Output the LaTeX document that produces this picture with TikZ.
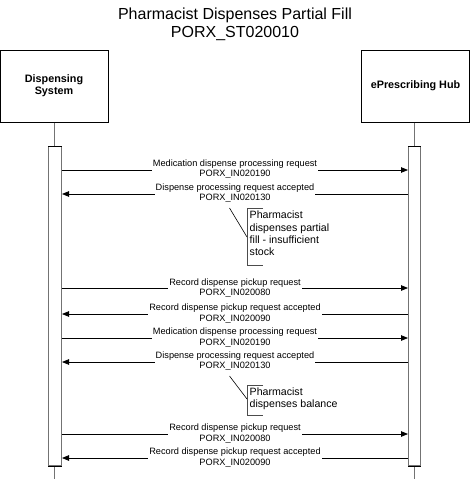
\documentclass[tikz,border=0pt]{standalone}
\usepackage{fontspec}
\setmainfont{Liberation Sans}
\usetikzlibrary{arrows.meta}
\tikzset{
  x=1pt, y=-1pt,
  actor/.style={draw=black, line width=0.9pt, fill=white, minimum width=108pt, minimum height=72pt, inner sep=0pt, align=center, font=\fontsize{10.8}{12.3}\selectfont\bfseries},
  life/.style={draw=black!55, line width=1.8pt},
  bar/.style={draw=black!55, line width=1.6pt, fill=white},
  barcap/.style={draw=black, line width=0.9pt},
  msg/.style={draw=black, line width=0.8pt, -{Triangle[length=7pt,width=5.5pt]}},
  lbl/.style={fill=white, inner sep=1.2pt, align=center, font=\fontsize{9.2}{10.6}\selectfont},
  notetxt/.style={inner sep=0pt, align=left, anchor=north west, font=\fontsize{10.6}{12.3}\selectfont},
  brk/.style={draw=black!70, line width=0.9pt},
  notelink/.style={draw=black, line width=0.6pt},
  ttl/.style={align=center, font=\fontsize{16}{18}\selectfont}
}
\begin{document}
\begin{tikzpicture}
\useasboundingbox (0,0) rectangle (470,479);
\node[ttl] (title) at (235,24) {Pharmacist Dispenses Partial Fill\\PORX\_ST020010};
\node[actor] (ds) at (54,86) {Dispensing\\System};
\node[actor] (hub) at (415.5,86) {ePrescribing Hub};
% lifelines
\coordinate (dsend) at (54.5,479);
\coordinate (hubend) at (414.5,479);
\draw[life] (54.5,122.5) -- (dsend);
\draw[life] (414.5,122.5) -- (hubend);
% activation bars
\draw[bar] (48.5,146.5) rectangle (61.5,466);
\draw[barcap] (48,146.5) -- (62,146.5) (48,466) -- (62,466);
\draw[bar] (408.5,146.5) rectangle (420.5,466);
\draw[barcap] (408,146.5) -- (421,146.5) (408,466) -- (421,466);
% message anchor coordinates
\foreach \n/\y in {1/170,2/194,3/288,4/314,5/338,6/362,7/434,8/458}{
  \coordinate (L\n) at (62,\y);
  \coordinate (R\n) at (408,\y);
}
\draw[msg] (L1) -- (R1);
\node[lbl] (m1) at (235,169) {Medication dispense processing request\\PORX\_IN020190};
\draw[msg] (R2) -- (L2);
\node[lbl] (m2) at (235,193) {Dispense processing request accepted\\PORX\_IN020130};
\draw[msg] (L3) -- (R3);
\node[lbl] (m3) at (235,288) {Record dispense pickup request\\PORX\_IN020080};
\draw[msg] (R4) -- (L4);
\node[lbl] (m4) at (235,313.5) {Record dispense pickup request accepted\\PORX\_IN020090};
\draw[msg] (L5) -- (R5);
\node[lbl] (m5) at (235,337.5) {Medication dispense processing request\\PORX\_IN020190};
\draw[msg] (R6) -- (L6);
\node[lbl] (m6) at (235,361) {Dispense processing request accepted\\PORX\_IN020130};
\draw[msg] (L7) -- (R7);
\node[lbl] (m7) at (235,433.5) {Record dispense pickup request\\PORX\_IN020080};
\draw[msg] (R8) -- (L8);
\node[lbl] (m8) at (235,457.5) {Record dispense pickup request accepted\\PORX\_IN020090};
% note 1
\node[notetxt] (n1) at (249.5,211) {Pharmacist\\dispenses partial\\fill - insufficient\\stock};
\draw[brk] (263,208) -- (247,208) -- (247,265) -- (263,265);
\coordinate (n1a) at (229.5,208);
\coordinate (n1b) at (247,237);
\draw[notelink] (n1a) -- (n1b);
% note 2
\node[notetxt] (n2) at (249.5,387.5) {Pharmacist\\dispenses balance};
\draw[brk] (263,385) -- (247,385) -- (247,415) -- (263,415);
\coordinate (n2a) at (229.5,376);
\coordinate (n2b) at (247,399);
\draw[notelink] (n2a) -- (n2b);
\end{tikzpicture}
\end{document}
